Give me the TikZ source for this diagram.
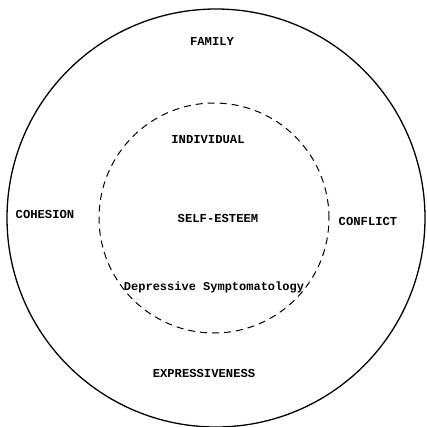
\documentclass[tikz,border=0pt]{standalone}
\usepackage{fontspec}
\setmonofont{Liberation Mono}
\usepackage{tikz}
\usetikzlibrary{positioning}
\tikzstyle{ring}=[circle,draw=black,line width=1.3pt,inner sep=0pt,minimum size=418pt]
\tikzstyle{core}=[circle,draw=black,dashed,dash pattern=on 7pt off 5pt,line width=1pt,inner sep=0pt,minimum size=230pt]
\tikzstyle{term}=[font=\ttfamily\bfseries\fontsize{12.2}{14}\selectfont,inner sep=1pt]
\tikzstyle{termsm}=[font=\ttfamily\bfseries\fontsize{12}{14}\selectfont,inner sep=1pt]

\begin{document}
\begin{tikzpicture}[x=1pt,y=-1pt]

    \useasboundingbox (0,0) rectangle (427,426);

    \node[ring] (family) at (216,218) {};
    \node[core] (individual) at (214,218) {};

    \node[term] (famlab) at (212,41) {FAMILY};
    \node[term] (coh) at (45,214) {COHESION};
    \node[term] (con) at (368,221) {CONFLICT};
    \node[term] (expr) at (204,373) {EXPRESSIVENESS};
    \node[term] (indlab) at (208,140) {INDIVIDUAL};
    \node[term] (self) at (218,218) {SELF-ESTEEM};
    \node[termsm] (dep) at (214,287) {Depressive Symptomatology};
\end{tikzpicture}
\end{document}
